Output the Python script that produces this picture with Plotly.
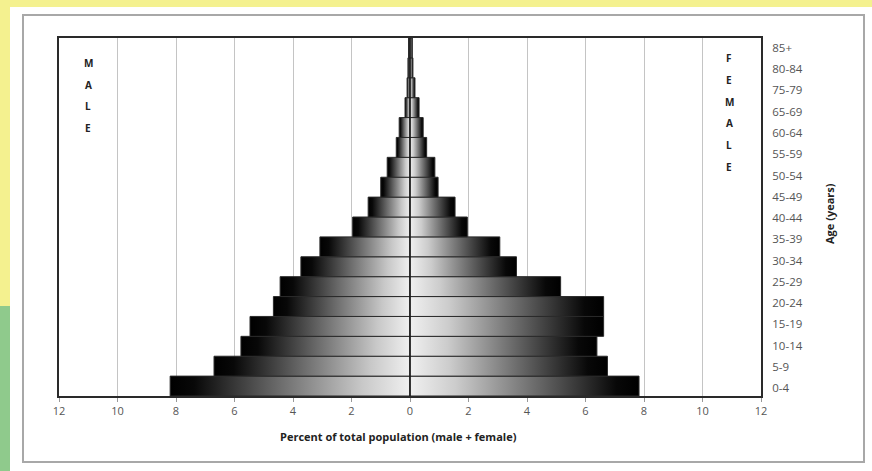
import numpy as np
import plotly.graph_objects as go

# ---------------- data ----------------
age_groups = ["0-4", "5-9", "10-14", "15-19", "20-24", "25-29", "30-34", "35-39",
              "40-44", "45-49", "50-54", "55-59", "60-64", "65-69", "70-74",
              "75-79", "80-84", "85+"]
male_pct = [8.2, 6.7, 5.78, 5.47, 4.67, 4.44, 3.73, 3.08, 1.96, 1.43, 1.0, 0.78,
            0.47, 0.37, 0.17, 0.1, 0.07, 0.05]
female_pct = [7.83, 6.75, 6.39, 6.62, 6.62, 5.15, 3.64, 3.07, 1.96, 1.54, 0.96,
              0.85, 0.57, 0.45, 0.31, 0.17, 0.1, 0.08]
age_tick_labels = ["0-4", "5-9", "10-14", "15-19", "20-24", "25-29", "30-34",
                   "35-39", "40-44", "45-49", "50-54", "55-59", "60-64", "65-69",
                   "75-79", "80-84", "85+"]
x_tick_vals = [-12, -10, -8, -6, -4, -2, 0, 2, 4, 6, 8, 10, 12]
x_tick_text = ["12", "10", "8", "6", "4", "2", "0", "2", "4", "6", "8", "10", "12"]

# ---------------- geometry ----------------
W_FIG, H_FIG = 872, 471
L, R, T, B = 59, 111, 38, 75
PW = W_FIG - L - R
PH = H_FIG - T - B


def px_x(px):
    return (px - L) / PW


def px_y(py):
    return (H_FIG - B - py) / PH


FONT = "Open Sans"

male_scale = [[0, "#000000"], [0.1, "#080808"], [0.45, "#6a6a6a"],
              [0.8, "#c8c8c8"], [1, "#f0f0f0"]]
female_scale = [[0, "#f0f0f0"], [0.2, "#cccccc"], [0.55, "#6a6a6a"],
                [0.9, "#080808"], [1, "#000000"]]

fig = go.Figure()
for i, (m, f) in enumerate(zip(male_pct, female_pct)):
    y0, y1 = i, i + 1
    fig.add_trace(go.Scatter(
        x=[0, -m, -m, 0, 0], y=[y0, y0, y1, y1, y0], mode="lines",
        fill="toself", line=dict(color="#2a2a2a", width=1),
        fillgradient=dict(type="horizontal", colorscale=male_scale),
        name="Male " + age_groups[i], showlegend=False, hoverinfo="skip"))
    fig.add_trace(go.Scatter(
        x=[0, f, f, 0, 0], y=[y0, y0, y1, y1, y0], mode="lines",
        fill="toself", line=dict(color="#2a2a2a", width=1),
        fillgradient=dict(type="horizontal", colorscale=female_scale),
        name="Female " + age_groups[i], showlegend=False, hoverinfo="skip"))

n = len(age_groups)
tick_pos = list(np.linspace(0.4, n - 0.5, len(age_tick_labels)))

shapes = [
    # background stripes
    dict(type="rect", xref="paper", yref="paper", x0=px_x(0), x1=px_x(W_FIG),
         y0=px_y(7), y1=px_y(0), fillcolor="#f4f18f", line_width=0, layer="below"),
    dict(type="rect", xref="paper", yref="paper", x0=px_x(0), x1=px_x(10),
         y0=px_y(306), y1=px_y(0), fillcolor="#f4f18f", line_width=0, layer="below"),
    dict(type="rect", xref="paper", yref="paper", x0=px_x(0), x1=px_x(10),
         y0=px_y(H_FIG), y1=px_y(306), fillcolor="#8fca8c", line_width=0, layer="below"),
    # panel border
    dict(type="rect", xref="paper", yref="paper", x0=px_x(23), x1=px_x(864),
         y0=px_y(462), y1=px_y(15), line=dict(color="#a8a8a8", width=2),
         fillcolor="rgba(0,0,0,0)", layer="below"),
    # zero line above bars
    dict(type="line", xref="x", yref="paper", x0=0, x1=0, y0=0, y1=1,
         line=dict(color="#1a1a1a", width=1.5), layer="above"),
]

annotations = []
letter_font = dict(family=FONT, size=10, color="#222")
for k, ch in enumerate("MALE"):
    annotations.append(dict(xref="paper", yref="paper", x=px_x(88), y=px_y(63 + 21.7 * k),
                            xanchor="center", yanchor="middle",
                            text="<b>" + ch + "</b>", showarrow=False, font=letter_font))
for k, ch in enumerate("FEMALE"):
    annotations.append(dict(xref="paper", yref="paper", x=px_x(729), y=px_y(58 + 21.8 * k),
                            xanchor="center", yanchor="middle",
                            text="<b>" + ch + "</b>", showarrow=False, font=letter_font))
annotations.append(dict(xref="paper", yref="paper", x=px_x(398), y=px_y(437),
                        xanchor="center", yanchor="middle",
                        text="<b>Percent of total population (male + female)</b>",
                        showarrow=False, font=dict(family=FONT, size=11, color="#222")))
annotations.append(dict(xref="paper", yref="paper", x=px_x(829), y=px_y(214),
                        xanchor="center", yanchor="middle",
                        text="<b>Age (years)</b>", textangle=-90,
                        showarrow=False, font=dict(family=FONT, size=11, color="#222")))

fig.update_layout(
    width=W_FIG, height=H_FIG,
    margin=dict(l=L, r=R, t=T, b=B, pad=0),
    paper_bgcolor="white", plot_bgcolor="white",
    shapes=shapes, annotations=annotations,
    xaxis=dict(range=[-12, 12], tickvals=x_tick_vals, ticktext=x_tick_text,
               showgrid=True, gridcolor="#c4c4c4", gridwidth=1.3, zeroline=False,
               showline=True, linecolor="#2a2a2a", linewidth=2, mirror=True,
               ticks="outside", ticklen=4, tickcolor="#999",
               tickfont=dict(family=FONT, size=11, color="#555"), fixedrange=True),
    yaxis=dict(range=[0, n], side="right", tickvals=tick_pos, ticktext=age_tick_labels,
               showgrid=False, zeroline=False,
               showline=True, linecolor="#2a2a2a", linewidth=2, mirror=True,
               ticks="outside", ticklen=7, tickcolor="rgba(0,0,0,0)",
               tickfont=dict(family=FONT, size=11.5, color="#555"), fixedrange=True),
)

fig.write_html("out.html", config={"displayModeBar": False},
               post_script="document.body.style.margin='0px';document.body.style.overflow='hidden';")
